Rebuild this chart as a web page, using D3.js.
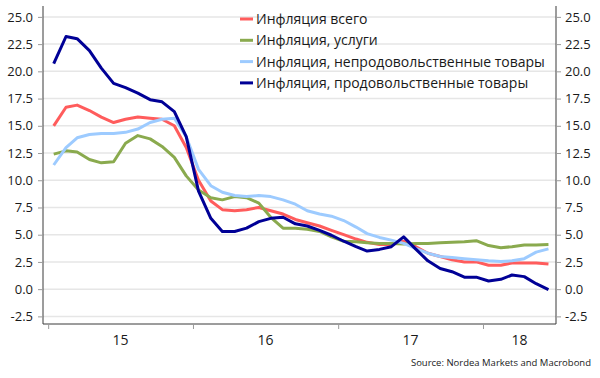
<!DOCTYPE html>
<html>
<head>
<meta charset="utf-8">
<script src="https://cdn.jsdelivr.net/npm/d3@7"></script>
<style>
	body { margin: 0; background: #fff; }
	svg text { font-family: "Open Sans", "Noto Sans", sans-serif; fill: #1a1a1a; }
</style>
</head>
<body>
<svg id="chart" width="600" height="378"></svg>
<script>
// monthly data, Jan 2015 - Jun 2018 (y/y, %)
var startMonth = new Date(2015, 0, 15);
var seriesNames = ["Инфляция всего", "Инфляция, услуги",
	"Инфляция, непродовольственные товары", "Инфляция, продовольственные товары"];
var seriesColors = ["#ff5c5c", "#8aaa4e", "#9dcbff", "#000096"];

var totalInfl = [15.0, 16.7, 16.9, 16.4, 15.8, 15.3, 15.6, 15.8, 15.7, 15.6, 15.0, 13.0,
	10.0, 8.1, 7.3, 7.2, 7.3, 7.5, 7.2, 6.9, 6.4, 6.1, 5.8, 5.4,
	5.0, 4.6, 4.3, 4.1, 4.1, 4.4, 3.9, 3.3, 3.0, 2.7, 2.5, 2.5,
	2.2, 2.2, 2.4, 2.4, 2.4, 2.3];
var servicesInfl = [12.4, 12.7, 12.6, 11.9, 11.6, 11.7, 13.4, 14.1, 13.8, 13.1, 12.1, 10.4,
	9.1, 8.4, 8.2, 8.5, 8.4, 7.9, 6.6, 5.6, 5.6, 5.5, 5.3, 4.8,
	4.4, 4.35, 4.25, 4.2, 4.2, 4.15, 4.2, 4.2, 4.25, 4.3, 4.35, 4.45,
	4.0, 3.8, 3.9, 4.05, 4.05, 4.1];
var nonFoodInfl = [11.4, 13.0, 13.9, 14.2, 14.3, 14.3, 14.4, 14.7, 15.3, 15.6, 15.7, 14.0,
	11.0, 9.5, 8.9, 8.6, 8.5, 8.6, 8.5, 8.2, 7.8, 7.2, 6.9, 6.7,
	6.3, 5.7, 5.1, 4.75, 4.5, 4.2, 3.75, 3.3, 3.0, 2.9, 2.8, 2.7,
	2.6, 2.55, 2.6, 2.8, 3.4, 3.7];
var foodInfl = [20.7, 23.2, 23.0, 21.9, 20.3, 18.9, 18.5, 18.0, 17.4, 17.2, 16.3, 14.0,
	9.0, 6.5, 5.3, 5.3, 5.6, 6.2, 6.5, 6.6, 6.0, 5.8, 5.4, 4.95,
	4.4, 3.9, 3.5, 3.65, 3.9, 4.8, 3.7, 2.6, 1.9, 1.6, 1.1, 1.1,
	0.75, 0.9, 1.3, 1.15, 0.5, -0.05];

var yTicks = [-2.5, 0, 2.5, 5, 7.5, 10, 12.5, 15, 17.5, 20, 22.5, 25];
var yearTicks = [new Date(2015, 0, 1), new Date(2016, 0, 1), new Date(2017, 0, 1), new Date(2018, 0, 1)];
var yearLabels = ["15", "16", "17", "18"];

var allSeries = [totalInfl, servicesInfl, nonFoodInfl, foodInfl];

(function(){
	var svg = d3.select("#chart");
	var pLeft = 43, pRight = 556, pTop = 6, pBottom = 324;

	var x = d3.scaleTime()
		.domain([new Date(2014, 11, 19), new Date(2018, 6, 4)])
		.range([pLeft, pRight]);
	var y = d3.scaleLinear().domain([-3.2, 26]).range([pBottom, pTop]);

	function monthDate(i){
		return new Date(startMonth.getFullYear(), startMonth.getMonth() + i, 15);
	}

	// gridlines
	svg.append("g").selectAll("line").data(yTicks).enter().append("line")
		.attr("x1", pLeft).attr("x2", pRight)
		.attr("y1", function(d){ return y(d); }).attr("y2", function(d){ return y(d); })
		.attr("stroke", "#e6e6e6").attr("stroke-width", 1.5);

	// axes
	var fmt = function(d){ return d.toFixed(1); };
	var yl = svg.append("g").attr("transform", "translate(" + pLeft + ",0)")
		.call(d3.axisLeft(y).tickValues(yTicks).tickFormat(fmt).tickSize(5).tickPadding(5));
	var yr = svg.append("g").attr("transform", "translate(" + pRight + ",0)")
		.call(d3.axisRight(y).tickValues(yTicks).tickFormat(fmt).tickSize(5).tickPadding(4));
	var xb = svg.append("g").attr("transform", "translate(0," + pBottom + ")")
		.call(d3.axisBottom(x).tickValues(yearTicks).tickFormat("").tickSize(5));

	[yl, yr, xb].forEach(function(a){
		a.select(".domain").attr("stroke", "#3a3a3a");
		a.selectAll(".tick line").attr("stroke", "#9a9a9a");
		a.selectAll(".tick text").style("font-size", "13px").attr("fill", "#1a1a1a");
	});
	yl.select(".domain").attr("d", "M0," + pBottom + "V" + pTop);
	yr.select(".domain").attr("d", "M0," + pBottom + "V" + pTop);
	xb.select(".domain").attr("d", "M" + pLeft + ",0H" + pRight);

	// year labels centred in visible year span
	var xEnd = x.domain()[1];
	svg.append("g").selectAll("text").data(yearTicks).enter().append("text")
		.attr("x", function(d, i){
			var e = i < yearTicks.length - 1 ? yearTicks[i + 1] : xEnd;
			return (x(d) + x(e)) / 2;
		})
		.attr("y", 345)
		.attr("text-anchor", "middle")
		.style("font-size", "14px")
		.text(function(d, i){ return yearLabels[i]; });

	// lines
	var line = d3.line()
		.x(function(d, i){ return x(monthDate(i)); })
		.y(function(d){ return y(d); });

	svg.append("g").selectAll("path").data(allSeries).enter().append("path")
		.attr("d", line)
		.attr("fill", "none")
		.attr("stroke", function(d, i){ return seriesColors[i]; })
		.attr("stroke-width", 3)
		.attr("stroke-linejoin", "round");

	// legend
	var lg = svg.append("g").selectAll("g").data(seriesNames).enter().append("g")
		.attr("transform", function(d, i){ return "translate(240," + (19 + i * 21.3) + ")"; });
	lg.append("line").attr("x1", 0).attr("x2", 13).attr("y1", 0).attr("y2", 0)
		.attr("stroke", function(d, i){ return seriesColors[i]; }).attr("stroke-width", 3);
	lg.append("text").attr("x", 16).attr("y", 0).attr("dy", "0.35em")
		.style("font-size", "14px")
		.text(function(d){ return d; });

	svg.append("text").attr("x", 591).attr("y", 366).attr("text-anchor", "end")
		.style("font-size", "9.5px")
		.text("Source: Nordea Markets and Macrobond");
})();
</script>
</body>
</html>
